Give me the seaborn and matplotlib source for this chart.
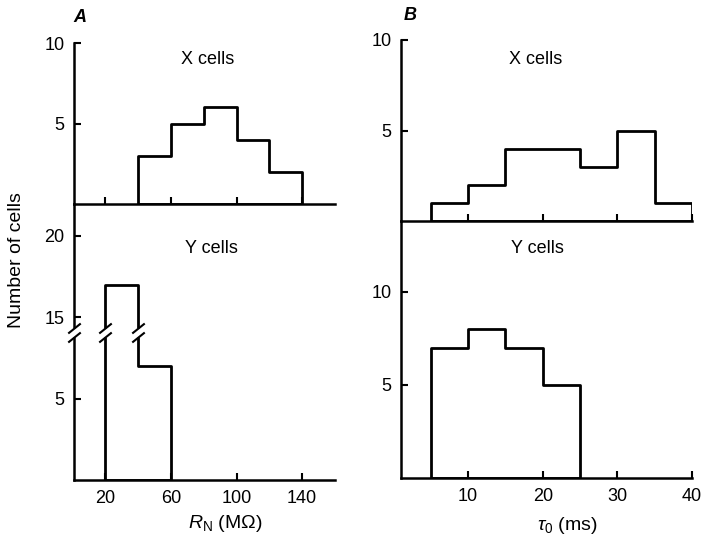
import matplotlib
matplotlib.use("Agg")
import matplotlib.pyplot as plt
import seaborn as sns

# Panel A: input resistance R_N (MOhm)
rn_x_edges = [40, 60, 80, 100, 120, 140]
rn_x_counts = [3, 5, 6, 4, 2]
rn_y_edges = [20, 40, 60]
rn_y_counts = [17, 7]
rn_ticks = [20, 60, 100, 140]

# Panel B: time constant tau_0 (ms)
tau_x_edges = [5, 10, 15, 20, 25, 30, 35, 40]
tau_x_counts = [1, 2, 4, 4, 3, 5, 1]
tau_y_edges = [5, 10, 15, 20, 25]
tau_y_counts = [7, 8, 7, 5]
tau_ticks = [10, 20, 30, 40]

# y axis of the A / Y-cells plot is broken: 10..15 is cut out
BREAK_GAP = 5


def shown(v):
    return v - BREAK_GAP if v > 12 else v


sns.set_style("ticks")
plt.rcParams["font.family"] = ["Liberation Sans", "DejaVu Sans"]
plt.rcParams["mathtext.fontset"] = "custom"
plt.rcParams["mathtext.rm"] = "Liberation Sans"
plt.rcParams["mathtext.it"] = "Liberation Sans:italic"
plt.rcParams["mathtext.bf"] = "Liberation Sans:bold"
for k in ["text.color", "axes.edgecolor", "axes.labelcolor", "xtick.color", "ytick.color"]:
    plt.rcParams[k] = "black"

W, H = 701, 535
fig = plt.figure(figsize=(W / 100, H / 100), dpi=100)


def add_ax(left, top, right, bottom):
    ax = fig.add_axes([left / W, 1 - bottom / H, (right - left) / W, (bottom - top) / H])
    ax.patch.set_visible(False)
    return ax


ax_a1 = add_ax(74, 43, 335, 204)
ax_a2 = add_ax(74, 204, 335, 480)
ax_b1 = add_ax(401, 40, 692, 221)
ax_b2 = add_ax(401, 221, 692, 478)


def step_hist(ax, edges, counts):
    sns.histplot(x=edges[:-1], weights=counts, bins=edges, element="step",
                 fill=True, color="black", facecolor="none", edgecolor="black",
                 linewidth=2, ax=ax)
    ax.set_xlabel("")
    ax.set_ylabel("")


step_hist(ax_a1, rn_x_edges, rn_x_counts)
step_hist(ax_a2, rn_y_edges, [shown(c) for c in rn_y_counts])
step_hist(ax_b1, tau_x_edges, tau_x_counts)
step_hist(ax_b2, tau_y_edges, tau_y_counts)

for ax in [ax_a1, ax_a2, ax_b1, ax_b2]:
    for s in ["top", "right"]:
        ax.spines[s].set_visible(False)
    for s in ["left", "bottom"]:
        ax.spines[s].set_linewidth(1.8)
    ax.tick_params(direction="in", length=5, width=1.5, labelsize=13, pad=7)

ax_a1.set_xlim(1, 160)
ax_a2.set_xlim(1, 160)
ax_b1.set_xlim(1, 40)
ax_b2.set_xlim(1, 40)

ax_a1.set_ylim(0, 10)
ax_b1.set_ylim(0, 10)
ax_a2.set_ylim(0, 16.96)
ax_b2.set_ylim(0, 13.8)

ax_a1.set_yticks([5, 10])
ax_b1.set_yticks([5, 10])
ax_b2.set_yticks([5, 10])
a2_ticks = [5, 15, 20]
ax_a2.set_yticks([shown(t) for t in a2_ticks])
ax_a2.set_yticklabels([str(t) for t in a2_ticks])

ax_a1.set_xticks(rn_ticks)
ax_a2.set_xticks(rn_ticks)
ax_b1.set_xticks(tau_ticks)
ax_b2.set_xticks(tau_ticks)
ax_a1.tick_params(axis="x", labelbottom=False)
ax_b1.tick_params(axis="x", labelbottom=False)

# break marks on the axis and on the bar edges
for x in [1, 20, 40]:
    ax_a2.plot([x, x], [8.8, 9.35], color="white", lw=5, zorder=5,
               clip_on=False, solid_capstyle="butt")
    for y in [8.8, 9.35]:
        ax_a2.plot([x], [y], marker=[(-1, -0.8), (1, 0.8)], ms=9, mec="black",
                   mew=1.5, zorder=6, clip_on=False)

ax_a1.text(82.7, 9.0, "X cells", ha="center", va="center", fontsize=13)
ax_a2.text(84.5, 14.2, "Y cells", ha="center", va="center", fontsize=13)
ax_b1.text(19.1, 8.9, "X cells", ha="center", va="center", fontsize=13)
ax_b2.text(19.3, 12.3, "Y cells", ha="center", va="center", fontsize=13)

fig.text(80 / W, 1 - 18 / H, "A", fontstyle="italic", fontweight="bold",
         ha="center", va="center", fontsize=13)
fig.text(410 / W, 1 - 16 / H, "B", fontstyle="italic", fontweight="bold",
         ha="center", va="center", fontsize=13)
fig.text(17 / W, 1 - 260 / H, "Number of cells", rotation=90,
         ha="center", va="center", fontsize=14)
fig.text(225 / W, 1 - 523 / H, r"$R_{\rm N}$ (MΩ)", ha="center", va="center", fontsize=14)
fig.text(567 / W, 1 - 525 / H, r"$\tau_0$ (ms)", ha="center", va="center", fontsize=14)

fig.savefig("out.png", dpi=100)
